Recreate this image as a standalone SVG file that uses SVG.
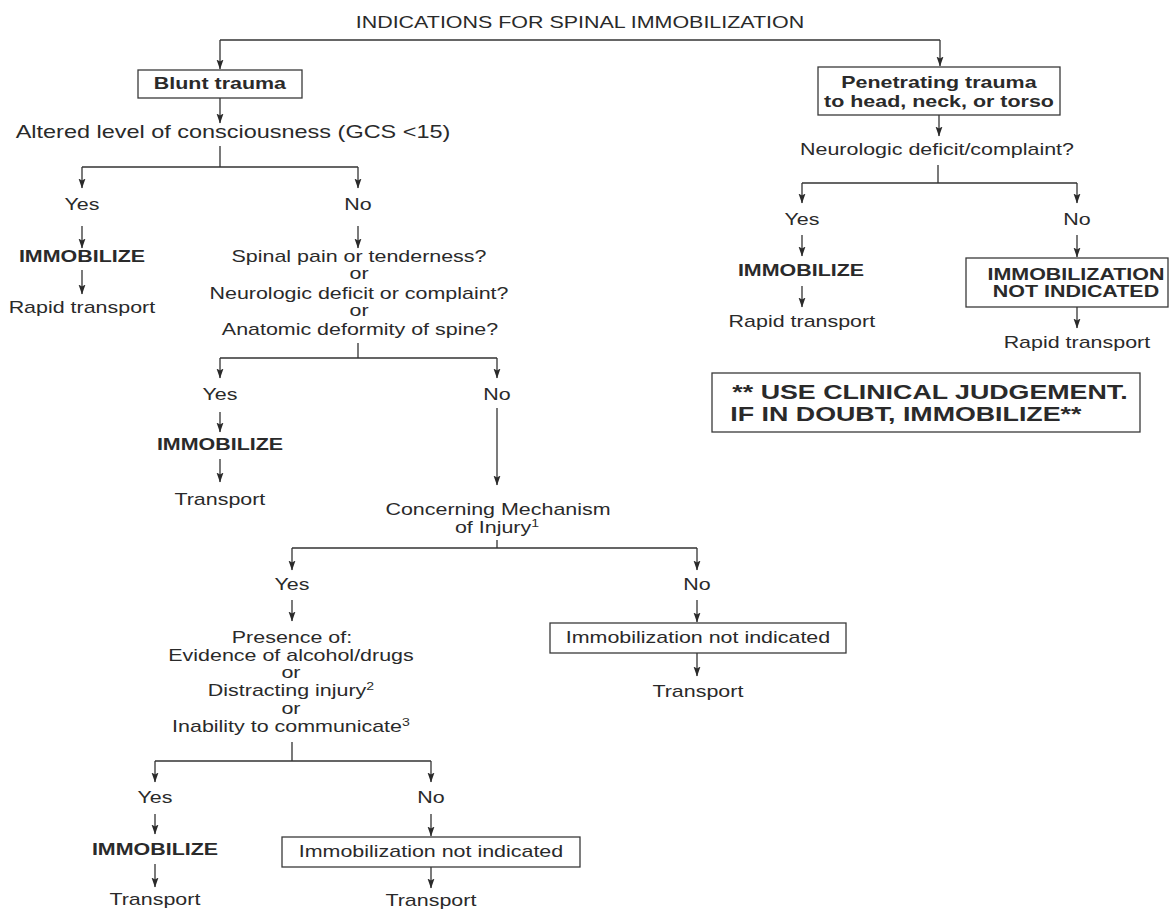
<svg xmlns="http://www.w3.org/2000/svg" width="1175" height="909" viewBox="0 0 1175 909">
  <style>
    text { font-family: "Liberation Sans", Arial, sans-serif; font-size: 16px; fill: #2a2a2a; text-anchor: middle;
           transform-box: fill-box; transform-origin: center; transform: scaleX(1.34); }
    .b { font-weight: bold; }
    .big { font-size: 20px; font-weight: bold; }
    .sup { font-size: 10.5px; }
    .box { fill: #fff; stroke: #3a3a3a; stroke-width: 1.3; }
    .ln { fill: none; stroke: #333; stroke-width: 1.3; }
    .ar { fill: none; stroke: #333; stroke-width: 1.3; marker-end: url(#head); }
  </style>
  <defs>
    <!-- filled arrowhead drawn along +x so orient="auto" follows the line -->
    <marker id="head" markerUnits="userSpaceOnUse" markerWidth="10" markerHeight="8" refX="9.5" refY="3.5" orient="auto" viewBox="0 0 10 8">
      <path d="M0,0 L10,3.5 L0,7 L2,3.5 Z" fill="#2a2a2a"/>
    </marker>
  </defs>
  <rect width="1175" height="909" fill="#fff"/>

  <!-- connectors -->
  <g id="connectors">
    <path class="ln" d="M220,40 H940"/>
    <path class="ar" d="M220,40 V69"/>
    <path class="ar" d="M940,40 V66"/>
    <path class="ar" d="M220,98 V123"/>
    <path class="ln" d="M220,146 V167 M82,167 H358"/>
    <path class="ar" d="M82,167 V188"/>
    <path class="ar" d="M358,167 V188"/>
    <path class="ar" d="M82,226 V248"/>
    <path class="ar" d="M358,226 V248"/>
    <path class="ar" d="M82,270 V294"/>
    <path class="ln" d="M358,343 V358 M220,358 H497"/>
    <path class="ar" d="M220,358 V378"/>
    <path class="ar" d="M497,358 V378"/>
    <path class="ar" d="M220,412 V432"/>
    <path class="ar" d="M497,408 V485"/>
    <path class="ar" d="M220,459 V482"/>
    <path class="ln" d="M497,540 V548 M292,548 H697"/>
    <path class="ar" d="M292,548 V570"/>
    <path class="ar" d="M697,548 V570"/>
    <path class="ar" d="M292,600 V621"/>
    <path class="ar" d="M697,600 V622"/>
    <path class="ar" d="M697,653 V676"/>
    <path class="ln" d="M292,742 V761 M155,761 H431"/>
    <path class="ar" d="M155,761 V782"/>
    <path class="ar" d="M431,761 V782"/>
    <path class="ar" d="M155,814 V834"/>
    <path class="ar" d="M431,814 V836"/>
    <path class="ar" d="M155,864 V887"/>
    <path class="ar" d="M431,867 V888"/>
    <path class="ar" d="M939,115 V136"/>
    <path class="ln" d="M938,165 V183 M802,183 H1077"/>
    <path class="ar" d="M802,183 V203"/>
    <path class="ar" d="M1077,183 V203"/>
    <path class="ar" d="M802,235 V256"/>
    <path class="ar" d="M1077,235 V257"/>
    <path class="ar" d="M802,286 V307"/>
    <path class="ar" d="M1077,307 V328"/>
  </g>

  <g id="title"><text x="580" y="28">INDICATIONS FOR SPINAL IMMOBILIZATION</text></g>

  <!-- blunt trauma branch -->
  <g id="blunt">
    <rect class="box" x="138" y="70" width="164" height="28"/>
    <text class="b" x="220" y="89">Blunt trauma</text>
  </g>
  <g id="altered"><text x="233" y="138" style="font-size:17.5px">Altered level of consciousness (GCS &lt;15)</text></g>
  <g id="yes1"><text x="82" y="210">Yes</text></g>
  <g id="no1"><text x="358" y="210">No</text></g>
  <g id="immob1"><text class="b" x="82" y="262">IMMOBILIZE</text></g>
  <g id="rapid1"><text x="82" y="313">Rapid transport</text></g>
  <g id="spinal">
    <text x="359" y="262">Spinal pain or tenderness?</text>
    <text x="359" y="279">or</text>
    <text x="359" y="299">Neurologic deficit or complaint?</text>
    <text x="359" y="316">or</text>
    <text x="360" y="335">Anatomic deformity of spine?</text>
  </g>
  <g id="yes2"><text x="220" y="400">Yes</text></g>
  <g id="no2"><text x="497" y="400">No</text></g>
  <g id="immob2"><text class="b" x="220" y="450">IMMOBILIZE</text></g>
  <g id="transport2"><text x="220" y="505">Transport</text></g>
  <g id="mechanism">
    <text x="498" y="515">Concerning Mechanism</text>
    <text x="497" y="533">of Injury<tspan class="sup" dy="-6">1</tspan></text>
  </g>
  <g id="yes3"><text x="292" y="590">Yes</text></g>
  <g id="no3"><text x="697" y="590">No</text></g>
  <g id="presence">
    <text x="292" y="643">Presence of:</text>
    <text x="291" y="661">Evidence of alcohol/drugs</text>
    <text x="291" y="678">or</text>
    <text x="291" y="696">Distracting injury<tspan class="sup" dy="-6">2</tspan></text>
    <text x="291" y="714">or</text>
    <text x="291" y="732">Inability to communicate<tspan class="sup" dy="-6">3</tspan></text>
  </g>
  <g id="notind3">
    <rect class="box" x="550" y="623" width="296" height="30"/>
    <text x="698" y="643">Immobilization not indicated</text>
  </g>
  <g id="transport3"><text x="698" y="697">Transport</text></g>
  <g id="yes4"><text x="155" y="803">Yes</text></g>
  <g id="no4"><text x="431" y="803">No</text></g>
  <g id="immob4"><text class="b" x="155" y="855">IMMOBILIZE</text></g>
  <g id="transport4a"><text x="155" y="905">Transport</text></g>
  <g id="notind4">
    <rect class="box" x="282" y="837" width="298" height="30"/>
    <text x="431" y="857">Immobilization not indicated</text>
  </g>
  <g id="transport4b"><text x="431" y="906">Transport</text></g>

  <!-- penetrating trauma branch -->
  <g id="penetrating">
    <rect class="box" x="818" y="67" width="242" height="48"/>
    <text class="b" x="939" y="88">Penetrating trauma</text>
    <text class="b" x="939" y="107">to head, neck, or torso</text>
  </g>
  <g id="neuro"><text x="937" y="155">Neurologic deficit/complaint?</text></g>
  <g id="yes5"><text x="802" y="225">Yes</text></g>
  <g id="no5"><text x="1077" y="225">No</text></g>
  <g id="immob5"><text class="b" x="801" y="276">IMMOBILIZE</text></g>
  <g id="rapid5"><text x="802" y="327">Rapid transport</text></g>
  <g id="notind5">
    <rect class="box" x="966" y="258" width="202" height="49"/>
    <text class="b" x="1076" y="280">IMMOBILIZATION</text>
    <text class="b" x="1076" y="297">NOT INDICATED</text>
  </g>
  <g id="rapid6"><text x="1077" y="348">Rapid transport</text></g>
  <g id="judgement">
    <rect class="box" x="712" y="373" width="428" height="59"/>
    <text class="big" x="930" y="399">** USE CLINICAL JUDGEMENT.</text>
    <text class="big" x="906" y="421">IF IN DOUBT, IMMOBILIZE**</text>
  </g>
</svg>
